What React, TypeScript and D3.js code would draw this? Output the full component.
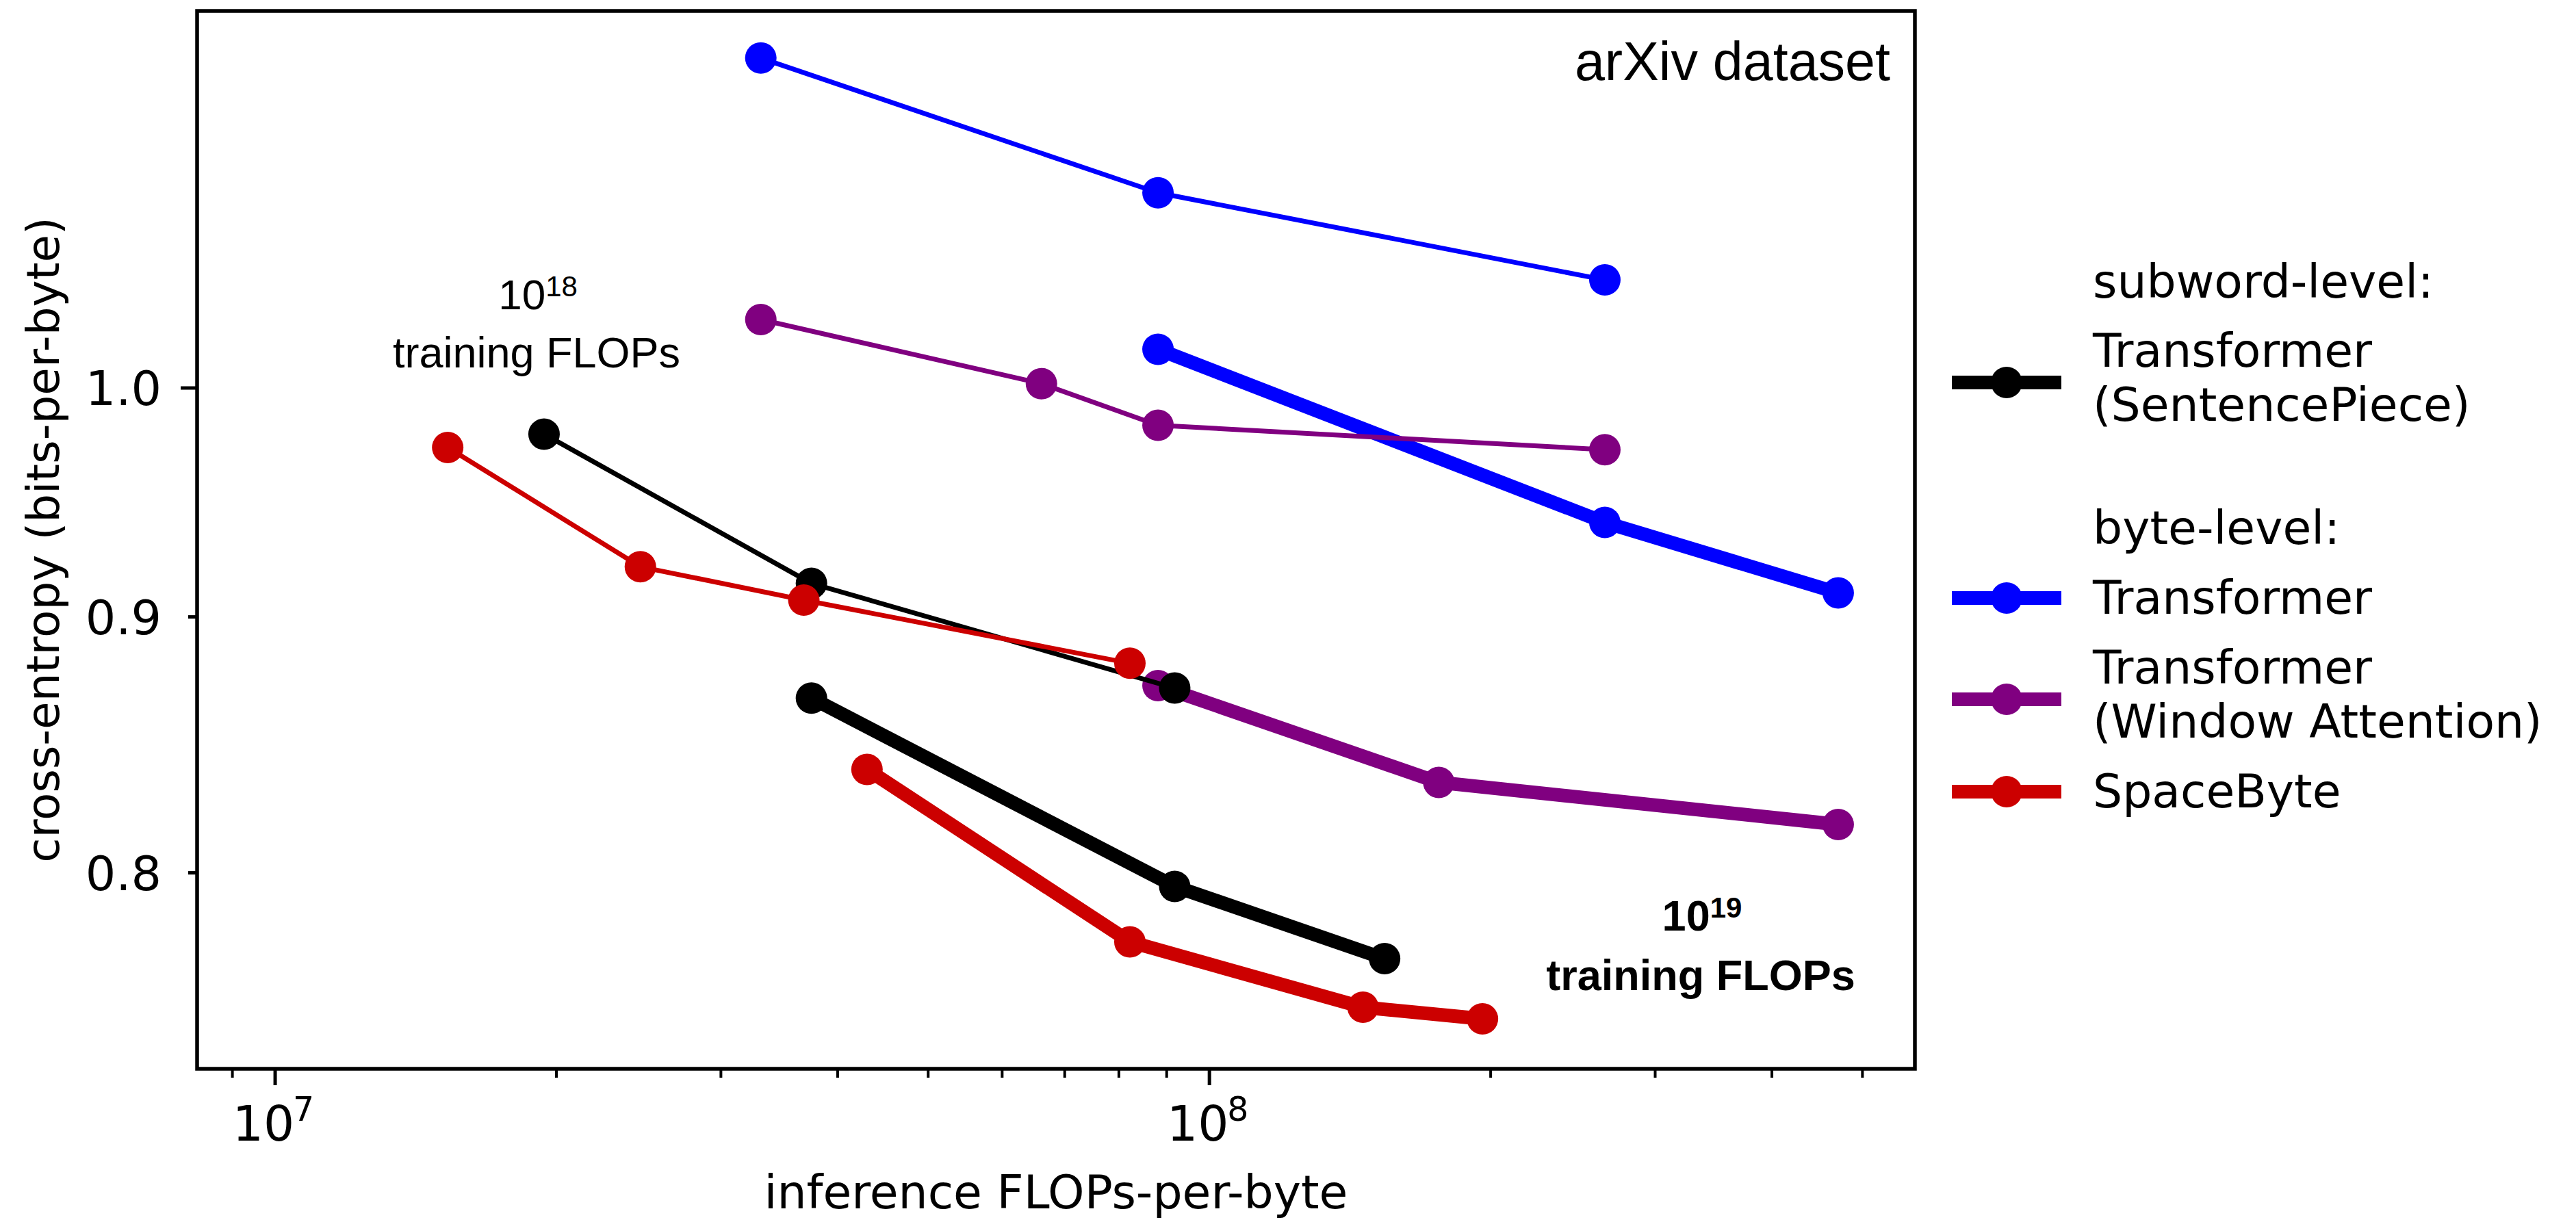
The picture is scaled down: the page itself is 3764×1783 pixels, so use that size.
import * as d3 from "d3";
import React from "react";

// inference FLOPs-per-byte (x) and cross-entropy in bits-per-byte (y)
const blue18X = [3.31e7, 8.81e7, 2.65e8];
const blue18Y = [1.164, 1.094, 1.051];
const blue19X = [8.81e7, 2.65e8, 4.71e8];
const blue19Y = [1.018, 0.940, 0.910];
const purple18X = [3.31e7, 6.61e7, 8.81e7, 2.65e8];
const purple18Y = [1.032, 1.002, 0.983, 0.972];
const purple19X = [8.81e7, 1.76e8, 4.71e8];
const purple19Y = [0.872, 0.834, 0.818];
const black18X = [1.94e7, 3.75e7, 9.18e7];
const black18Y = [0.979, 0.914, 0.871];
const black19X = [3.75e7, 9.18e7, 1.54e8];
const black19Y = [0.867, 0.795, 0.769];
const red18X = [1.53e7, 2.46e7, 3.68e7, 8.22e7];
const red18Y = [0.973, 0.921, 0.907, 0.881];
const red19X = [4.3e7, 8.22e7, 1.46e8, 1.96e8];
const red19Y = [0.839, 0.775, 0.752, 0.748];

const yTicks = [0.8, 0.9, 1.0];
const yTickLabels = ["0.8", "0.9", "1.0"];
const xMajor = [1e7, 1e8];
const xMajorExp = ["7", "8"];

const legendItems = [
  { color: "#000000", lines: ["Transformer", "(SentencePiece)"] },
  { color: "#0000ff", lines: ["Transformer"] },
  { color: "#800080", lines: ["Transformer", "(Window Attention)"] },
  { color: "#cc0000", lines: ["SpaceByte"] },
];

const series = [
  { xs: blue18X, ys: blue18Y, color: "#0000ff", thick: false },
  { xs: blue19X, ys: blue19Y, color: "#0000ff", thick: true },
  { xs: purple18X, ys: purple18Y, color: "#800080", thick: false },
  { xs: purple19X, ys: purple19Y, color: "#800080", thick: true },
  { xs: black18X, ys: black18Y, color: "#000000", thick: false },
  { xs: black19X, ys: black19Y, color: "#000000", thick: true },
  { xs: red18X, ys: red18Y, color: "#cc0000", thick: false },
  { xs: red19X, ys: red19Y, color: "#cc0000", thick: true },
];

const W = 3764;
const H = 1783;
const left = 288, right = 2798, top = 16, bottom = 1562;
const dv = "'DejaVu Sans', sans-serif";
const hv = "'Liberation Sans', Arial, sans-serif";

export default function App() {
  const x = d3.scaleLog().domain([8.25e6, 5.69e8]).range([left, right]);
  const y = d3.scaleLog().domain([0.731, 1.1895]).range([bottom, top]);

  const xMinor: number[] = [];
  for (let e = 6; e <= 8; e++) {
    for (let m = 2; m <= 9; m++) {
      const v = m * Math.pow(10, e);
      if (v > 8.25e6 && v < 5.69e8) xMinor.push(v);
    }
  }

  const line = d3.line<[number, number]>().x((d) => x(d[0])).y((d) => y(d[1]));

  const legX = 2852, legX2 = 3012, legText = 3058;
  const legRows = [559, 874, 1022, 1157];

  return (
    <svg width={W} height={H} style={{ position: "absolute", left: 0, top: 0, background: "#fff" }}>
      <rect x={0} y={0} width={W} height={H} fill="#fff" />
      {/* data */}
      {series.map((s, i) => {
        const pts = s.xs.map((v, j) => [v, s.ys[j]] as [number, number]);
        return (
          <g key={i}>
            <path d={line(pts) || ""} fill="none" stroke={s.color} strokeWidth={s.thick ? 20 : 7} strokeLinejoin="round" />
            {pts.map((p, j) => (
              <circle key={j} cx={x(p[0])} cy={y(p[1])} r={23} fill={s.color} />
            ))}
          </g>
        );
      })}

      {/* frame */}
      <rect x={left} y={top} width={right - left} height={bottom - top} fill="none" stroke="#000" strokeWidth={5.5} />

      {/* y ticks */}
      {yTicks.map((v, i) => (
        <g key={i}>
          <line x1={left} x2={left - (v === 1 ? 24 : 13)} y1={y(v)} y2={y(v)} stroke="#000" strokeWidth={5} />
          <text x={236} y={y(v)} dy="0.36em" textAnchor="end" fontFamily={dv} fontSize={70}>
            {yTickLabels[i]}
          </text>
        </g>
      ))}

      {/* x ticks */}
      {xMinor.map((v, i) => (
        <line key={i} x1={x(v)} x2={x(v)} y1={bottom} y2={bottom + 13} stroke="#000" strokeWidth={4} />
      ))}
      {xMajor.map((v, i) => (
        <g key={i}>
          <line x1={x(v)} x2={x(v)} y1={bottom} y2={bottom + 24} stroke="#000" strokeWidth={5} />
          <text x={x(v) - 17} y={1667} textAnchor="middle" fontFamily={dv} fontSize={71}>
            10
          </text>
          <text x={x(v) + 26} y={1638} textAnchor="start" fontFamily={dv} fontSize={49}>
            {xMajorExp[i]}
          </text>
        </g>
      ))}

      {/* axis labels */}
      <text x={(left + right) / 2} y={1766} textAnchor="middle" fontFamily={dv} fontSize={68}>
        inference FLOPs-per-byte
      </text>
      <text transform={`translate(86, ${(top + bottom) / 2}) rotate(-90)`} textAnchor="middle" fontFamily={dv} fontSize={66}>
        cross-entropy (bits-per-byte)
      </text>

      {/* annotations */}
      <text x={2762} y={117} textAnchor="end" fontFamily={hv} fontSize={79}>
        arXiv dataset
      </text>
      <text x={786} y={452} textAnchor="middle" fontFamily={hv} fontSize={62}>
        10<tspan fontSize={42} dy={-19}>18</tspan>
      </text>
      <text x={784} y={537} textAnchor="middle" fontFamily={hv} fontSize={63}>
        training FLOPs
      </text>
      <text x={2487} y={1360} textAnchor="middle" fontFamily={hv} fontSize={63} fontWeight="bold">
        10<tspan fontSize={42} dy={-19}>19</tspan>
      </text>
      <text x={2485} y={1447} textAnchor="middle" fontFamily={hv} fontSize={63} fontWeight="bold">
        training FLOPs
      </text>

      {/* legend */}
      <text x={legText} y={435} fontFamily={dv} fontSize={68}>subword-level:</text>
      <text x={legText} y={795} fontFamily={dv} fontSize={68}>byte-level:</text>
      {legendItems.map((it, i) => {
        const cy = legRows[i];
        const offs = it.lines.length === 1 ? [23] : [-23, 56];
        return (
          <g key={i}>
            <line x1={legX} x2={legX2} y1={cy} y2={cy} stroke={it.color} strokeWidth={20} />
            <circle cx={(legX + legX2) / 2} cy={cy} r={23} fill={it.color} />
            {it.lines.map((t, j) => (
              <text key={j} x={legText} y={cy + offs[j]} fontFamily={dv} fontSize={68}>
                {t}
              </text>
            ))}
          </g>
        );
      })}
    </svg>
  );
}
